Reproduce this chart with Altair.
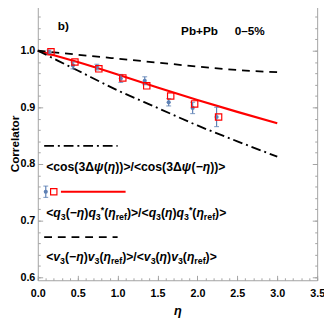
import altair as alt
import pandas as pd

# ---------------- data ----------------
data_eta = [0.14, 0.44, 0.74, 1.04, 1.34, 1.64, 1.94, 2.24]
data_val = [0.998, 0.974, 0.971, 0.951, 0.947, 0.909, 0.899, 0.883]
data_err = [0.003, 0.006, 0.005, 0.007, 0.007, 0.0065, 0.010, 0.017]

model_eta = [0.165, 0.465, 0.765, 1.065, 1.365, 1.665, 1.965, 2.265]
model_val = [0.998, 0.980, 0.968, 0.952, 0.938, 0.920, 0.906, 0.883]

curve_eta = [0.0, 0.5, 1.0, 1.5, 2.0, 2.5, 3.0]
q_curve = [1.0, 0.980, 0.958, 0.935, 0.913, 0.892, 0.872]
v_curve = [1.0, 0.993, 0.986, 0.979, 0.972, 0.966, 0.962]
cos_curve = [1.0, 0.965, 0.930, 0.899, 0.868, 0.840, 0.813]

# legend (drawn inside the plot)
leg_line_y = [0.832, 0.751, 0.671]
leg_line_x1 = [0.08, 0.29, 0.08]
leg_line_x2 = [1.00, 1.10, 1.00]
leg_data_marker = [0.10, 0.751, 0.010]   # eta, value, error
leg_model_marker = [0.20, 0.751]
leg_text_x = 0.105
leg_text_y = [0.7876, 0.7072, 0.6284]
leg_texts = [
    [("<cos(3Δ", "n"), ("ψ", "i"), ("(", "n"), ("η", "i"), ("))>/<cos(3Δ", "n"),
     ("ψ", "i"), ("(−", "n"), ("η", "i"), ("))>", "n")],
    [("<", "n"), ("q", "i"), ("3", "sub"), ("(−", "n"), ("η", "i"), (")", "n"),
     ("q", "i"), ("3", "sub"), ("*", "sup"), ("(", "n"), ("η", "i"), ("ref", "sub"),
     (")>/<", "n"), ("q", "i"), ("3", "sub"), ("(", "n"), ("η", "i"), (")", "n"),
     ("q", "i"), ("3", "sub"), ("*", "sup"), ("(", "n"), ("η", "i"), ("ref", "sub"),
     (")>", "n")],
    [("<", "n"), ("v", "i"), ("3", "sub"), ("(−", "n"), ("η", "i"), (")", "n"),
     ("v", "i"), ("3", "sub"), ("(", "n"), ("η", "i"), ("ref", "sub"),
     (")>/<", "n"), ("v", "i"), ("3", "sub"), ("(", "n"), ("η", "i"), (")", "n"),
     ("v", "i"), ("3", "sub"), ("(", "n"), ("η", "i"), ("ref", "sub"), (")>", "n")],
]
annot_text = ["b)", "Pb+Pb", "0–5%"]
annot_x = [0.251, 1.795, 2.466]
annot_y = [1.0434, 1.034, 1.034]

x_major = [0.0, 0.5, 1.0, 1.5, 2.0, 2.5, 3.0, 3.5]
y_major = [0.6, 0.7, 0.8, 0.9, 1.0]

# ---------------- layout ----------------
W, H = 286, 285
XD = [0.0, 3.5]
YD = [0.5948, 1.0862]
PX_PER_X = W / (XD[1] - XD[0])
PX_PER_Y = H / (YD[1] - YD[0])
FRAME = "#a3a3a3"
BLUE = "#5E81B5"
RED = "#FF0000"
FONT = "Liberation Sans"

x_minor = [round(i * 0.1, 2) for i in range(0, 36)]
y_minor = [round(0.6 + i * 0.02, 2) for i in range(0, 25)]

xs = alt.Scale(domain=XD, nice=False, zero=False)
ys = alt.Scale(domain=YD, nice=False, zero=False)


def X(field, axis=None):
    return alt.X(field, type="quantitative", scale=xs, axis=axis)


def Y(field, axis=None):
    return alt.Y(field, type="quantitative", scale=ys, axis=axis)


def tick_axis(orient, values, size, offset):
    return alt.Axis(orient=orient, values=values, ticks=True, tickSize=size,
                    tickColor=FRAME, tickWidth=1, labels=False, domain=False,
                    grid=False, title=None, offset=offset)


x_main = alt.Axis(orient="bottom", values=x_major, format=".1f", ticks=False,
                  tickSize=0, domain=False, grid=False, labelPadding=8,
                  labelFont=FONT, labelFontSize=11, labelFontWeight="bold",
                  labelColor="black", labelFlush=False, labelOverlap=False,
                  title="η", titleFont=FONT, titleFontSize=13,
                  titleFontWeight="bold", titleFontStyle="italic",
                  titleColor="black", titleY=35, titleBaseline="alphabetic")
y_main = alt.Axis(orient="left", values=y_major, format=".1f", ticks=False,
                  tickSize=0, domain=False, grid=False, labelPadding=3,
                  labelFont=FONT, labelFontSize=11, labelFontWeight="bold",
                  labelColor="black", labelFlush=False, labelOverlap=False,
                  title="Correlator", titleFont=FONT, titleFontSize=12,
                  titleFontWeight="bold", titleColor="black", titleAngle=270,
                  titleX=-20, titleY=145, titleBaseline="alphabetic")

curves = pd.DataFrame({"eta": curve_eta, "q": q_curve, "v": v_curve, "c": cos_curve})
pts = pd.DataFrame({"eta": data_eta, "val": data_val,
                    "lo": [v - e for v, e in zip(data_val, data_err)],
                    "hi": [v + e for v, e in zip(data_val, data_err)]})
mod = pd.DataFrame({"eta": model_eta, "val": model_val})

red_line = alt.Chart(curves).mark_line(color=RED, strokeWidth=2.2, interpolate="monotone").encode(
    x=X("eta", x_main), y=Y("q", y_main))
dash_line = alt.Chart(curves).mark_line(color="black", strokeWidth=1.8, strokeDash=[8, 6],
                                        interpolate="monotone").encode(
    x=X("eta", tick_axis("top", x_major, 5, -H)),
    y=Y("v", tick_axis("right", y_major, 5, -W)))
dashdot_line = alt.Chart(curves).mark_line(color="black", strokeWidth=1.9, strokeDash=[10, 4, 2, 4],
                                           interpolate="monotone").encode(
    x=X("eta", tick_axis("top", x_minor, 2.5, -H)),
    y=Y("c", tick_axis("right", y_minor, 2.5, -W)))

err_rule = alt.Chart(pts).mark_rule(color=BLUE, strokeWidth=1.2).encode(
    x=X("eta"), y=Y("lo", tick_axis("left", y_major, 5, -W)), y2="hi")
cap_lo = alt.Chart(pts).mark_tick(color=BLUE, orient="horizontal", size=5, thickness=1.2).encode(
    x=X("eta"), y=Y("lo", tick_axis("left", y_minor, 2.5, -W)))
cap_hi = alt.Chart(pts).mark_tick(color=BLUE, orient="horizontal", size=5, thickness=1.2).encode(
    x=X("eta"), y=Y("hi"))
dots = alt.Chart(pts).mark_point(color=BLUE, filled=True, size=18, opacity=1).encode(
    x=X("eta"), y=Y("val"))
squares = alt.Chart(mod).mark_square(filled=False, color=RED, size=42, strokeWidth=1.2, opacity=1).encode(
    x=X("eta"), y=Y("val"))

# legend lines
leg = pd.DataFrame({"x1": leg_line_x1, "x2": leg_line_x2, "y": leg_line_y, "k": [0, 1, 2]})
leg_dd = alt.Chart(leg).transform_filter("datum.k == 0").mark_rule(
    color="black", strokeWidth=1.9, strokeDash=[10, 4, 2, 4]).encode(x=X("x1"), x2="x2", y=Y("y"))
leg_red = alt.Chart(leg).transform_filter("datum.k == 1").mark_rule(
    color=RED, strokeWidth=2.2).encode(x=X("x1"), x2="x2", y=Y("y"))
leg_dash = alt.Chart(leg).transform_filter("datum.k == 2").mark_rule(
    color="black", strokeWidth=1.8, strokeDash=[8, 6]).encode(x=X("x1"), x2="x2", y=Y("y"))

lm = pd.DataFrame({"eta": [leg_data_marker[0]], "val": [leg_data_marker[1]],
                   "lo": [leg_data_marker[1] - leg_data_marker[2]],
                   "hi": [leg_data_marker[1] + leg_data_marker[2]]})
lsq = pd.DataFrame({"eta": [leg_model_marker[0]], "val": [leg_model_marker[1]]})
leg_err = alt.Chart(lm).mark_rule(color=BLUE, strokeWidth=1.2).encode(x=X("eta"), y=Y("lo"), y2="hi")
leg_cap1 = alt.Chart(lm).mark_tick(color=BLUE, orient="horizontal", size=5, thickness=1.2).encode(
    x=X("eta"), y=Y("lo"))
leg_cap2 = alt.Chart(lm).mark_tick(color=BLUE, orient="horizontal", size=5, thickness=1.2).encode(
    x=X("eta"), y=Y("hi"))
leg_dot = alt.Chart(lm).mark_point(color=BLUE, filled=True, size=18, opacity=1).encode(
    x=X("eta"), y=Y("val"))
leg_sq = alt.Chart(lsq).mark_square(filled=False, color=RED, size=42, strokeWidth=1.2, opacity=1).encode(
    x=X("eta"), y=Y("val"))

# legend text built from segments (italic symbols, sub/superscripts)
EM = {" ": .278, "(": .333, ")": .333, "*": .389, "/": .278, "3": .556, "<": .584,
      ">": .584, "c": .556, "o": .611, "s": .556, "q": .611, "v": .556, "r": .389,
      "e": .556, "f": .333, "−": .584, "Δ": .722, "η": .611, "ψ": .80}
MAIN_FS, SUB_FS = 12.5, 9.0
rows = []
for y0, segs in zip(leg_text_y, leg_texts):
    off = 0.0
    for txt, kind in segs:
        fs = SUB_FS if kind in ("sub", "sup") else MAIN_FS
        dy = 3.0 if kind == "sub" else (-3.5 if kind == "sup" else 0.0)
        rows.append({"x": leg_text_x + off / PX_PER_X, "y": y0 - dy / PX_PER_Y,
                     "t": txt, "fs": fs, "it": kind == "i"})
        off += sum(EM.get(ch, 0.6) for ch in txt) * fs
segdf = pd.DataFrame(rows)
txt_up = alt.Chart(segdf).transform_filter("!datum.it").mark_text(
    font=FONT, fontWeight="bold", align="left", baseline="alphabetic", color="black").encode(
    x=X("x"), y=Y("y"), text="t:N", size=alt.Size("fs:Q", scale=None))
txt_it = alt.Chart(segdf).transform_filter("datum.it").mark_text(
    font=FONT, fontWeight="bold", fontStyle="italic", align="left", baseline="alphabetic",
    color="black").encode(
    x=X("x"), y=Y("y"), text="t:N", size=alt.Size("fs:Q", scale=None))

ann = pd.DataFrame({"t": annot_text, "x": annot_x, "y": annot_y})
ann_txt = alt.Chart(ann).mark_text(font=FONT, fontWeight="bold", fontSize=12, align="left",
                                   baseline="middle", color="black").encode(
    x=X("x"), y=Y("y"), text="t:N")

chart = alt.layer(
    red_line, dash_line, dashdot_line, err_rule, cap_lo, cap_hi, dots, squares,
    leg_dd, leg_red, leg_dash, leg_err, leg_cap1, leg_cap2, leg_dot, leg_sq,
    txt_up, txt_it, ann_txt
).resolve_axis(x="independent", y="independent").properties(
    width=W, height=H, autosize=alt.AutoSizeParams(type="none"),
    padding={"left": 30.5, "top": -10, "right": 7, "bottom": 38},
    background="white"
).configure_view(stroke=FRAME, strokeWidth=1)

chart.save("out.html", embed_options={"renderer": "svg", "actions": False})
